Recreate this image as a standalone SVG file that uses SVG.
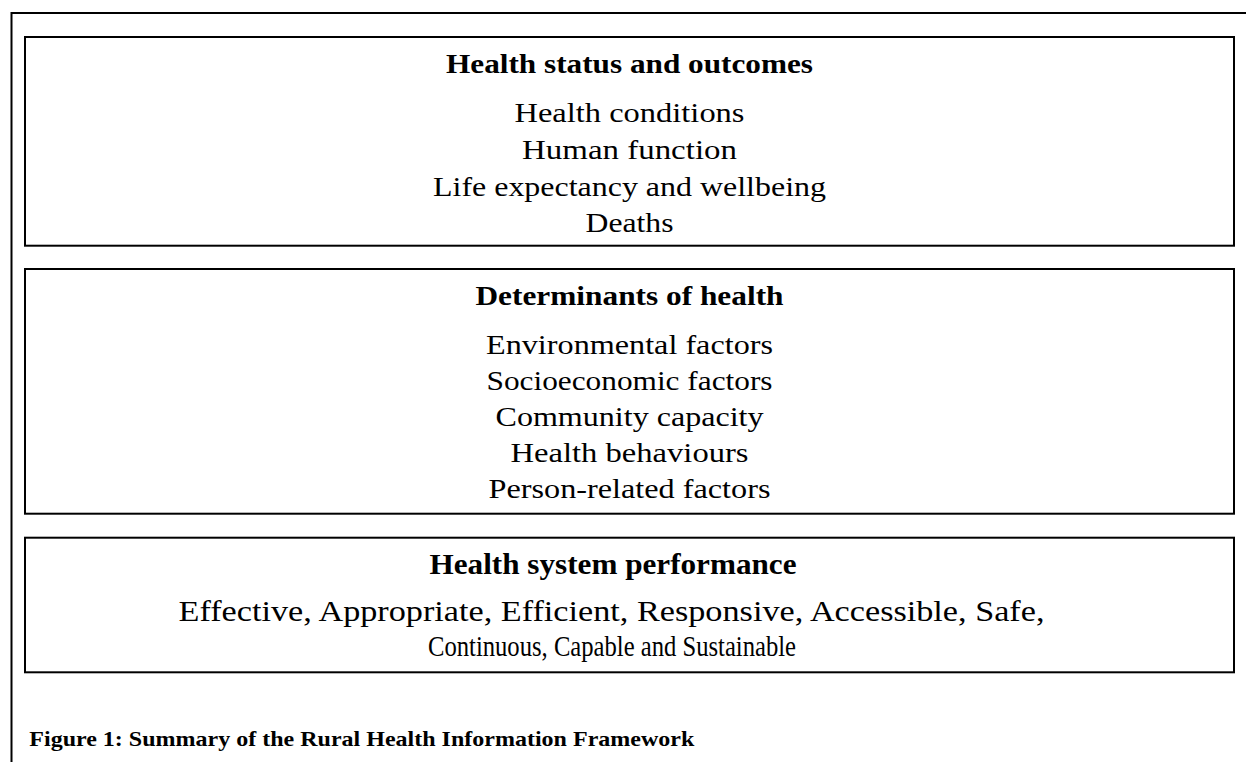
<svg xmlns="http://www.w3.org/2000/svg" width="1246" height="762" viewBox="0 0 1246 762">
  <style>
    .frame { fill: none; stroke: #000; stroke-width: 2; }
    .box { fill: #fff; stroke: #000; stroke-width: 2; }
    .title { font-family: "Liberation Serif", "Times New Roman", serif; font-weight: bold; font-size: 27px; fill: #000; text-anchor: middle; }
    .item { font-family: "Liberation Serif", "Times New Roman", serif; font-size: 27px; fill: #000; text-anchor: middle; }
    .tall { font-size: 28.5px; }
    .caption { font-family: "Liberation Serif", "Times New Roman", serif; font-weight: bold; font-size: 21.5px; fill: #000; }
  </style>
  <rect width="1246" height="762" fill="#fff"/>

  <!-- outer frame: left and top edges -->
  <path class="frame" d="M11.5 762 V13 H1246"/>

  <g id="health-status">
    <rect class="box" x="25" y="37" width="1209" height="208.7"/>
    <text class="title" x="629.5" y="72.7" textLength="367" lengthAdjust="spacingAndGlyphs">Health status and outcomes</text>
    <text class="item" x="629.5" y="122.3" textLength="230" lengthAdjust="spacingAndGlyphs">Health conditions</text>
    <text class="item" x="629.5" y="159" textLength="215" lengthAdjust="spacingAndGlyphs">Human function</text>
    <text class="item" x="629.5" y="195.7" textLength="393" lengthAdjust="spacingAndGlyphs">Life expectancy and wellbeing</text>
    <text class="item" x="629.5" y="231.7" textLength="88" lengthAdjust="spacingAndGlyphs">Deaths</text>
  </g>

  <g id="determinants">
    <rect class="box" x="25" y="269" width="1209" height="244.7"/>
    <text class="title" x="629.5" y="305" textLength="308" lengthAdjust="spacingAndGlyphs">Determinants of health</text>
    <text class="item" x="629.5" y="354.3" textLength="287" lengthAdjust="spacingAndGlyphs">Environmental factors</text>
    <text class="item" x="629.5" y="390" textLength="286" lengthAdjust="spacingAndGlyphs">Socioeconomic factors</text>
    <text class="item" x="629.5" y="425.7" textLength="268" lengthAdjust="spacingAndGlyphs">Community capacity</text>
    <text class="item" x="629.5" y="461.7" textLength="238" lengthAdjust="spacingAndGlyphs">Health behaviours</text>
    <text class="item" x="629.5" y="497.5" textLength="282" lengthAdjust="spacingAndGlyphs">Person-related factors</text>
  </g>

  <g id="system-performance">
    <rect class="box" x="25" y="537.7" width="1209" height="134.6"/>
    <text class="title tall" x="613" y="573.5" textLength="367" lengthAdjust="spacingAndGlyphs">Health system performance</text>
    <text class="item tall" x="611.5" y="621" textLength="866" lengthAdjust="spacingAndGlyphs">Effective, Appropriate, Efficient, Responsive, Accessible, Safe,</text>
    <text class="item tall" x="612" y="656" textLength="368" lengthAdjust="spacingAndGlyphs">Continuous, Capable and Sustainable</text>
  </g>

  <g id="connectors"></g>

  <text class="caption" x="29.3" y="746" textLength="665" lengthAdjust="spacingAndGlyphs">Figure 1: Summary of the Rural Health Information Framework</text>
</svg>
